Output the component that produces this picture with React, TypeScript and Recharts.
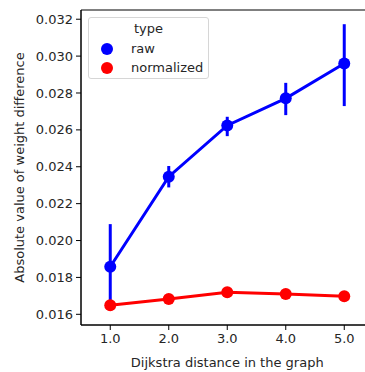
import React from 'react';
import { LineChart, Line, XAxis, YAxis, ErrorBar, ReferenceArea, Legend } from 'recharts';

const distances = [1, 2, 3, 4, 5];
const xTickLabels = ['1.0', '2.0', '3.0', '4.0', '5.0'];
const yTicks = [0.016, 0.018, 0.02, 0.022, 0.024, 0.026, 0.028, 0.03, 0.032];

const rawMean = [0.01858, 0.02346, 0.02624, 0.02771, 0.0296];
const rawLow = [0.0164, 0.02288, 0.02566, 0.0268, 0.02729];
const rawHigh = [0.02089, 0.02404, 0.02671, 0.02855, 0.03173];

const normMean = [0.01649, 0.01683, 0.01719, 0.0171, 0.01698];
const normLow = [0.0162, 0.01672, 0.01708, 0.01702, 0.0169];
const normHigh = [0.01672, 0.01694, 0.0173, 0.01718, 0.01706];

const seriesNames = ['raw', 'normalized'];
const seriesColors = ['#0000ff', '#ff0000'];
const legendTitle = 'type';

const data = distances.map((d, i) => ({
  x: d,
  raw: rawMean[i],
  rawErr: [rawMean[i] - rawLow[i], rawHigh[i] - rawMean[i]],
  normalized: normMean[i],
  normErr: [normMean[i] - normLow[i], normHigh[i] - normMean[i]],
}));

const FONT = '"DejaVu Sans", sans-serif';
const TEXT = '#262626';

const LegendBox = () => (
  <div
    style={{
      width: 121,
      height: 62,
      border: '1px solid #d6d6d6',
      borderRadius: 3,
      background: 'rgba(255,255,255,0.85)',
      fontFamily: FONT,
      fontSize: 13,
      color: TEXT,
      boxSizing: 'border-box',
      position: 'relative',
    }}
  >
    <div style={{ position: 'absolute', left: 0, right: 0, top: 3, textAlign: 'center', lineHeight: '16px' }}>
      {legendTitle}
    </div>
    {seriesNames.map((name, i) => (
      <div key={name} style={{ position: 'absolute', left: 0, top: 23 + i * 19, height: 16, width: '100%' }}>
        <svg width={14} height={14} style={{ position: 'absolute', left: 11, top: 1 }}>
          <circle cx={7} cy={7} r={6} fill={seriesColors[i]} />
        </svg>
        <span style={{ position: 'absolute', left: 42, top: 0, lineHeight: '16px', whiteSpace: 'nowrap' }}>{name}</span>
      </div>
    ))}
  </div>
);

export default function App() {
  return (
    <div style={{ position: 'absolute', left: 0, top: 0, width: 365, height: 372, overflow: 'hidden', background: '#fff' }}>
      <LineChart width={380} height={372} data={data} margin={{ top: 10, right: 6.5, bottom: 0, left: 0 }}>
        <XAxis
          dataKey="x"
          type="number"
          domain={[0.5, 5.5]}
          ticks={distances}
          tickFormatter={(v: number) => xTickLabels[distances.indexOf(v)]}
          height={47}
          tickSize={5}
          tickMargin={4}
          stroke="#000"
          tick={{ fill: TEXT, fontSize: 13, fontFamily: FONT }}
          tickLine={{ stroke: '#000' }}
          axisLine={{ stroke: '#000' }}
          allowDataOverflow
          label={{ value: 'Dijkstra distance in the graph', position: 'insideBottom', offset: 5, fill: TEXT, fontSize: 13, fontFamily: FONT }}
        />
        <YAxis
          type="number"
          domain={[0.01542, 0.0325]}
          ticks={yTicks}
          tickFormatter={(v: number) => v.toFixed(3)}
          width={81}
          tickSize={5}
          tickMargin={3}
          allowDataOverflow
          tick={{ fill: TEXT, fontSize: 13, fontFamily: FONT }}
          tickLine={{ stroke: '#000' }}
          axisLine={{ stroke: '#000' }}
          label={{
            value: 'Absolute value of weight difference',
            angle: -90,
            position: 'insideLeft',
            offset: 19,
            fill: TEXT,
            fontSize: 13,
            fontFamily: FONT,
            style: { textAnchor: 'middle' },
          }}
        />
        <ReferenceArea x1={0.5} x2={5.5} y1={0.01542} y2={0.0325} fill="none" stroke="#000" strokeWidth={1} ifOverflow="visible" />
        <Line
          dataKey="raw"
          stroke={seriesColors[0]}
          strokeWidth={3}
          dot={{ r: 6, fill: seriesColors[0], stroke: seriesColors[0], strokeWidth: 0 }}
          isAnimationActive={false}
        >
          <ErrorBar dataKey="rawErr" direction="y" width={0} stroke={seriesColors[0]} strokeWidth={3} isAnimationActive={false} />
        </Line>
        <Line
          dataKey="normalized"
          stroke={seriesColors[1]}
          strokeWidth={3}
          dot={{ r: 6, fill: seriesColors[1], stroke: seriesColors[1], strokeWidth: 0 }}
          isAnimationActive={false}
        >
          <ErrorBar dataKey="normErr" direction="y" width={0} stroke={seriesColors[1]} strokeWidth={3} isAnimationActive={false} />
        </Line>
        <Legend
          layout="vertical"
          align="center"
          verticalAlign="middle"
          content={() => <LegendBox />}
          wrapperStyle={{ left: 88, top: 17, width: 121, height: 62 }}
        />
      </LineChart>
    </div>
  );
}
